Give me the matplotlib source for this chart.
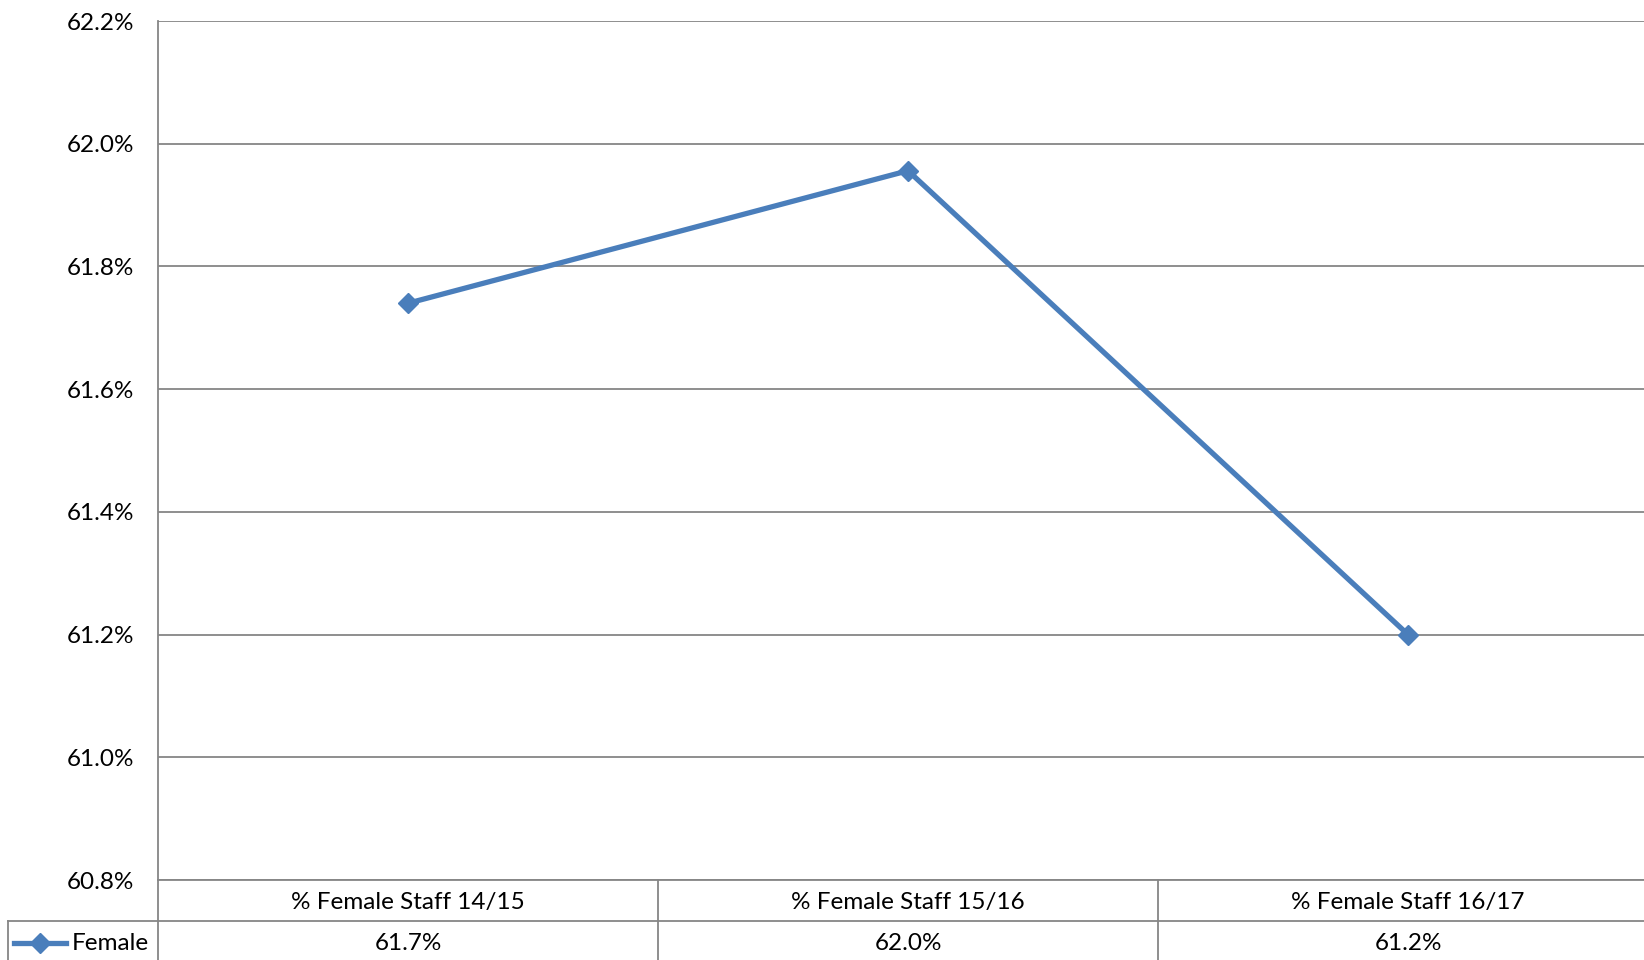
import matplotlib
matplotlib.use("Agg")
import matplotlib.pyplot as plt
from matplotlib.transforms import blended_transform_factory
from matplotlib.lines import Line2D

categories = ["% Female Staff 14/15", "% Female Staff 15/16", "% Female Staff 16/17"]
female = [61.74, 61.956, 61.20]
table_labels = ["61.7%", "62.0%", "61.2%"]
series_name = "Female"
yticks = [60.8, 61.0, 61.2, 61.4, 61.6, 61.8, 62.0, 62.2]

W, H = 1644, 960
FS = 17.5
plt.rcParams['font.family'] = ['Lato', 'DejaVu Sans']
fig = plt.figure(figsize=(W / 100, H / 100), dpi=100)
left, right, top, bottom = 158, 1644, 21, 880
ax = fig.add_axes([left / W, (H - bottom) / H, (right - left) / W, (bottom - top) / H])

grid_c = "#868686"
line_c = "#4A7EBB"
x = list(range(len(categories)))
ax.plot(x, female, color=line_c, lw=3.8, marker="D", ms=10, mfc=line_c, mec=line_c,
        solid_joinstyle="miter", zorder=3)

ax.set_xlim(-0.5, -0.5 + (right - left) / 500.0)
ax.set_ylim(60.8, 62.2)
ax.set_yticks(yticks)
ax.set_yticklabels([f"{v:.1f}%" for v in yticks], fontsize=FS)
ax.tick_params(axis="y", length=0, pad=17)
ax.set_xticks([])
for s in ["top", "right", "bottom"]:
    ax.spines[s].set_visible(False)
ax.spines["left"].set_color(grid_c)
ax.spines["left"].set_linewidth(1.3)
ax.grid(axis="y", color=grid_c, lw=1.3)
ax.set_axisbelow(True)

# data table under the chart
tb = blended_transform_factory(ax.transData, fig.transFigure)
fy = lambda py: (H - py) / H
fx = lambda px: px / W
row1, row2, endy = 880, 921, 960
lk = dict(color=grid_c, lw=1.3, clip_on=False)
fig.add_artist(Line2D([fx(left), 1], [fy(row1), fy(row1)], transform=fig.transFigure, **lk))
fig.add_artist(Line2D([fx(8), 1], [fy(row2), fy(row2)], transform=fig.transFigure, **lk))
fig.add_artist(Line2D([fx(left), fx(left)], [fy(row1), fy(endy)], transform=fig.transFigure, **lk))
fig.add_artist(Line2D([fx(8), fx(8)], [fy(row2), fy(endy)], transform=fig.transFigure, **lk))
for i in range(len(categories)):
    xb = i + 0.5
    if xb < ax.get_xlim()[1]:
        ax.add_line(Line2D([xb, xb], [fy(row1), fy(endy)], transform=tb, **lk))
    ax.text(i, fy((row1 + row2) / 2 + 2), categories[i], transform=tb, ha="center", va="center",
            fontsize=FS, clip_on=False)
    ax.text(i, fy((row2 + endy) / 2 + 3), table_labels[i], transform=tb, ha="center", va="center",
            fontsize=FS, clip_on=False)

# legend key
ly = fy((row2 + endy) / 2 + 2)
fig.add_artist(Line2D([fx(14), fx(66)], [ly, ly], transform=fig.transFigure, color=line_c, lw=3.8))
fig.add_artist(Line2D([fx(40)], [ly], transform=fig.transFigure, color=line_c, marker="D", ms=10, lw=0))
fig.text(fx(72), fy((row2 + endy) / 2 + 3), series_name, ha="left", va="center", fontsize=FS)

fig.savefig("out.png", dpi=100)
